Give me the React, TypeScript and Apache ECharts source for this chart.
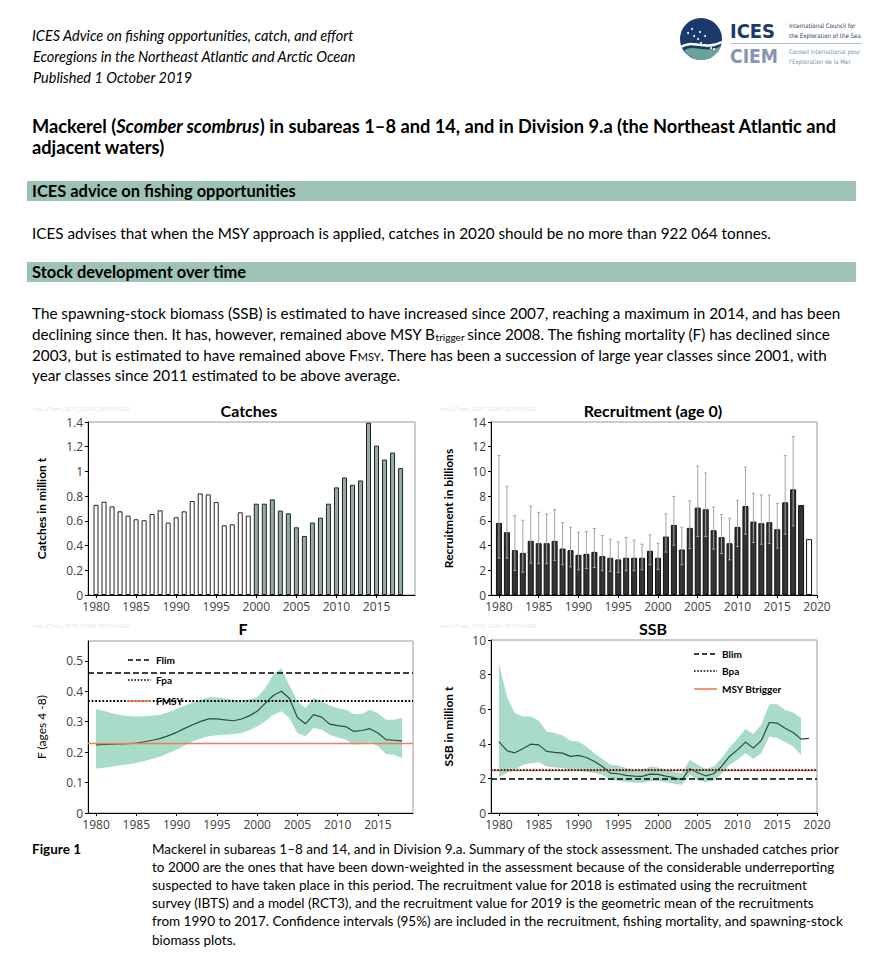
import React, { useEffect, useRef } from 'react';
import * as echarts from 'echarts';

// ---------------- DATA ----------------
const catchYears = [1980, 1981, 1982, 1983, 1984, 1985, 1986, 1987, 1988, 1989, 1990, 1991, 1992, 1993, 1994, 1995, 1996, 1997, 1998, 1999, 2000, 2001, 2002, 2003, 2004, 2005, 2006, 2007, 2008, 2009, 2010, 2011, 2012, 2013, 2014, 2015, 2016, 2017, 2018];
const catchValues = [0.73, 0.755, 0.717, 0.677, 0.642, 0.613, 0.605, 0.656, 0.685, 0.586, 0.629, 0.677, 0.76, 0.822, 0.814, 0.752, 0.564, 0.572, 0.669, 0.642, 0.739, 0.739, 0.774, 0.683, 0.661, 0.548, 0.478, 0.586, 0.626, 0.739, 0.871, 0.951, 0.892, 0.927, 1.395, 1.209, 1.096, 1.153, 1.027];
const unshadedBefore = 2000;

const recYears = [1980, 1981, 1982, 1983, 1984, 1985, 1986, 1987, 1988, 1989, 1990, 1991, 1992, 1993, 1994, 1995, 1996, 1997, 1998, 1999, 2000, 2001, 2002, 2003, 2004, 2005, 2006, 2007, 2008, 2009, 2010, 2011, 2012, 2013, 2014, 2015, 2016, 2017, 2018, 2019];
const recValues = [5.83, 5.08, 3.63, 3.41, 4.38, 4.19, 4.19, 4.38, 3.76, 3.63, 3.25, 3.33, 3.49, 3.15, 3.01, 2.88, 3.01, 3.01, 3.01, 3.58, 3.01, 4.73, 5.67, 3.68, 5.43, 7.07, 6.94, 5.24, 4.68, 4.19, 5.51, 7.2, 5.94, 5.81, 5.89, 5.32, 7.5, 8.55, 7.28, 4.52];
const recGeoMeanYear = 2019;
const recUpper = [11.29, 8.79, 6.42, 6.05, 7.2, 6.69, 6.56, 6.91, 5.86, 5.48, 5.08, 5.13, 5.38, 4.81, 4.52, 4.3, 4.65, 4.44, 4.11, 4.87, 4.17, 6.56, 7.98, 5.48, 7.61, 10.43, 9.87, 7.12, 6.51, 6.21, 7.66, 10.35, 8.23, 8.09, 8.09, 7.42, 11.29, 12.82];
const recLower = [2.98, 2.98, 1.99, 1.85, 2.58, 2.53, 2.53, 2.8, 2.45, 2.28, 2.04, 2.15, 2.23, 1.96, 1.91, 1.83, 1.96, 1.96, 2.04, 2.45, 2.07, 3.47, 4.03, 2.45, 3.76, 4.73, 4.73, 3.71, 3.36, 2.85, 3.92, 4.92, 4.25, 4.11, 4.17, 3.79, 4.92, 5.59];

const fYears = [1980, 1981, 1982, 1983, 1984, 1985, 1986, 1987, 1988, 1989, 1990, 1991, 1992, 1993, 1994, 1995, 1996, 1997, 1998, 1999, 2000, 2001, 2002, 2003, 2004, 2005, 2006, 2007, 2008, 2009, 2010, 2011, 2012, 2013, 2014, 2015, 2016, 2017, 2018];
const fMean = [0.224, 0.225, 0.226, 0.227, 0.228, 0.23, 0.234, 0.239, 0.245, 0.254, 0.265, 0.278, 0.29, 0.301, 0.309, 0.309, 0.306, 0.303, 0.308, 0.319, 0.334, 0.36, 0.386, 0.4, 0.377, 0.314, 0.293, 0.323, 0.315, 0.292, 0.287, 0.284, 0.268, 0.271, 0.277, 0.263, 0.241, 0.239, 0.237];
const fUpper = [0.342, 0.335, 0.328, 0.322, 0.319, 0.317, 0.318, 0.32, 0.323, 0.331, 0.342, 0.352, 0.362, 0.372, 0.38, 0.379, 0.377, 0.372, 0.369, 0.374, 0.38, 0.41, 0.454, 0.476, 0.42, 0.367, 0.345, 0.377, 0.367, 0.353, 0.345, 0.339, 0.325, 0.325, 0.339, 0.328, 0.306, 0.306, 0.312];
const fLower = [0.146, 0.149, 0.153, 0.157, 0.16, 0.164, 0.171, 0.178, 0.186, 0.197, 0.208, 0.222, 0.235, 0.245, 0.252, 0.255, 0.257, 0.259, 0.263, 0.272, 0.284, 0.301, 0.323, 0.334, 0.312, 0.263, 0.252, 0.279, 0.274, 0.257, 0.248, 0.241, 0.224, 0.226, 0.233, 0.219, 0.194, 0.191, 0.18];
const Flim = 0.46;
const Fpa = 0.37;
const FMSY = 0.23;

const ssbYears = [1980, 1981, 1982, 1983, 1984, 1985, 1986, 1987, 1988, 1989, 1990, 1991, 1992, 1993, 1994, 1995, 1996, 1997, 1998, 1999, 2000, 2001, 2002, 2003, 2004, 2005, 2006, 2007, 2008, 2009, 2010, 2011, 2012, 2013, 2014, 2015, 2016, 2017, 2018, 2019];
const ssbValues = [4.13, 3.6, 3.48, 3.71, 3.98, 3.94, 3.56, 3.5, 3.46, 3.27, 3.33, 3.21, 2.98, 2.69, 2.31, 2.27, 2.17, 2.13, 2.12, 2.25, 2.23, 2.13, 2.04, 1.92, 2.56, 2.33, 2.15, 2.27, 2.69, 3.27, 3.65, 4.1, 3.75, 4.19, 5.23, 5.19, 4.9, 4.65, 4.27, 4.31];
const ssbBandYears = [1980, 1981, 1982, 1983, 1984, 1985, 1986, 1987, 1988, 1989, 1990, 1991, 1992, 1993, 1994, 1995, 1996, 1997, 1998, 1999, 2000, 2001, 2002, 2003, 2004, 2005, 2006, 2007, 2008, 2009, 2010, 2011, 2012, 2013, 2014, 2015, 2016, 2017, 2018];
const ssbUpper = [8.65, 6.73, 5.77, 5.58, 5.58, 5.33, 4.71, 4.62, 4.48, 4.17, 4.13, 3.85, 3.46, 3.13, 2.79, 2.75, 2.6, 2.5, 2.5, 2.69, 2.63, 2.5, 2.37, 2.31, 3.08, 2.79, 2.56, 2.69, 3.17, 3.79, 4.29, 4.85, 4.56, 5.1, 6.29, 6.29, 5.96, 5.81, 5.48];
const ssbLower = [2.06, 2.31, 2.5, 2.79, 2.88, 2.94, 2.69, 2.63, 2.6, 2.5, 2.5, 2.4, 2.31, 2.21, 1.92, 1.87, 1.79, 1.75, 1.75, 1.83, 1.83, 1.79, 1.69, 1.63, 2.21, 1.88, 1.79, 1.87, 2.25, 2.79, 3.08, 3.46, 3.13, 3.46, 4.42, 4.33, 4.1, 3.85, 3.37];
const Blim = 2.0;
const Bpa = 2.5;
const MSYBtrigger = 2.5;

const xTicksTo2015 = [1980, 1985, 1990, 1995, 2000, 2005, 2010, 2015];
const xTicksTo2020 = [1980, 1985, 1990, 1995, 2000, 2005, 2010, 2015, 2020];
const catchTicks = [0, 0.2, 0.4, 0.6, 0.8, 1, 1.2, 1.4];
const recTicks = [0, 2, 4, 6, 8, 10, 12, 14];
const fTicks = [0, 0.1, 0.2, 0.3, 0.4, 0.5];
const ssbTicks = [0, 2, 4, 6, 8, 10];

// ---------------- TEXT ----------------
const header = [
  'ICES Advice on fishing opportunities, catch, and effort',
  'Ecoregions in the Northeast Atlantic and Arctic Ocean',
  'Published 1 October 2019',
];
const titleA = 'Mackerel (';
const titleB = 'Scomber scombrus';
const titleC = ') in subareas 1–8 and 14, and in Division 9.a (the Northeast Atlantic and';
const title2 = 'adjacent waters)';
const section1 = 'ICES advice on fishing opportunities';
const section2 = 'Stock development over time';
const advice = 'ICES advises that when the MSY approach is applied, catches in 2020 should be no more than 922 064 tonnes.';
const p1 = 'The spawning-stock biomass (SSB) is estimated to have increased since 2007, reaching a maximum in 2014, and has been';
const p2a = 'declining since then. It has, however, remained above MSY B';
const p2sub = 'trigger ';
const p2b = 'since 2008. The fishing mortality (F) has declined since';
const p3a = '2003, but is estimated to have remained above F';
const p3sc = 'MSY';
const p3b = '. There has been a succession of large year classes since 2001, with';
const p4 = 'year classes since 2011 estimated to be above average.';
const captionLabel = 'Figure 1';
const caption = [
  'Mackerel in subareas 1–8 and 14, and in Division 9.a. Summary of the stock assessment. The unshaded catches prior',
  'to 2000 are the ones that have been down-weighted in the assessment because of the considerable underreporting',
  'suspected to have taken place in this period. The recruitment value for 2018 is estimated using the recruitment',
  'survey (IBTS) and a model (RCT3), and the recruitment value for 2019 is the geometric mean of the recruitments',
  'from 1990 to 2017. Confidence intervals (95%) are included in the recruitment, fishing mortality, and spawning-stock',
  'biomass plots.',
];
const watermark = 'mac.27.nea_2019_12084_2019100202';

// logo shapes
echarts.graphic.registerShape(
  'icesWave',
  echarts.graphic.extendPath('M -17 12 C -8 4 4 16 20 7 A 21 21 0 0 1 -17 12 Z', {})
);
echarts.graphic.registerShape(
  'icesSwoosh',
  echarts.graphic.extendPath('M -20 8 C -9 0 4 12 21 3', {})
);
const logoStars = [[-13, -6], [-9, -10], [-7, -3], [-3, 0], [0, 4], [4, -3], [6, 7], [10, 9], [-1, -7], [13, 10]];

const DOC = 'Lato, "Open Sans", sans-serif';
const AX = '"Open Sans", sans-serif';
const BAND = '#a8dcc8';
const LINE = '#2c4a44';
const ORANGE = '#ef7d56';

export default function App() {
  const ref = useRef<HTMLDivElement>(null);

  useEffect(() => {
    if (!ref.current) return;
    const chart = echarts.init(ref.current, undefined, { renderer: 'svg' });

    const cvs = document.createElement('canvas');
    const ctx = cvs.getContext('2d') as CanvasRenderingContext2D;
    const measure = (t: string, size: number, weight = 'normal', style = 'normal', fam = DOC) => {
      ctx.font = `${style} ${weight} ${size}px ${fam}`;
      return ctx.measureText(t).width;
    };
    const clamp = (v: number, lo: number, hi: number) => Math.min(hi, Math.max(lo, v));
    const fit = (t: string, w: number, weight = 'normal', style = 'normal', fam = DOC, lo = 6, hi = 22) =>
      clamp((20 * w) / measure(t, 20, weight, style, fam), lo, hi);

    const sizeH = fit(header[0], 322, 'normal', 'italic');
    const sizeT = fit(titleA + titleB + titleC, 819 * 0.995, 'bold');
    const sizeS = fit(section1, 264, 'bold');
    const sizeB = fit(advice, 740);
    const sizeC = fit(caption[4], 699 * 0.99);

    const txt = (x: number, y: number, text: string, o: any = {}) => ({
      type: 'text',
      x,
      y,
      z: 10,
      style: {
        text,
        fontSize: o.size || 12,
        fontWeight: o.weight || 'normal',
        fontStyle: o.style || 'normal',
        fontFamily: o.fam || DOC,
        fill: o.fill || '#000',
        align: o.align || 'left',
        verticalAlign: 'middle',
      },
    });
    const segs = (x0: number, y: number, parts: any[]) => {
      let x = x0;
      return parts.map((p) => {
        const el = txt(x, y + (p.dy || 0), p.t, p);
        x += measure(p.t, p.size, p.weight || 'normal', p.style || 'normal', p.fam || DOC);
        return el;
      });
    };

    const graphics: any[] = [];
    // header
    header.forEach((h, i) => graphics.push(txt(i === 0 ? 32 : 33, 35 + i * 21, h, { size: sizeH, style: 'italic' })));
    // logo
    graphics.push({ type: 'circle', z: 10, shape: { cx: 701, cy: 39, r: 21 }, style: { fill: '#1b3a6b' } });
    graphics.push({ type: 'icesWave', z: 11, x: 701, y: 39, style: { fill: '#6aa39a', stroke: null } });
    graphics.push({ type: 'icesSwoosh', z: 11, x: 701, y: 39, style: { fill: null, stroke: '#ffffff', lineWidth: 2.5 } });
    logoStars.forEach(([dx, dy]) =>
      graphics.push({ type: 'circle', z: 12, shape: { cx: 701 + dx, cy: 39 + dy, r: 1 }, style: { fill: '#ffffff' } })
    );
    const LOGOFAM = '"DejaVu Sans Condensed", Roboto, sans-serif';
    graphics.push(txt(730, 31, 'ICES', { size: fit('ICES', 45, 'bold', 'normal', LOGOFAM, 10, 40), weight: 'bold', fam: LOGOFAM, fill: '#1b3a6b' }));
    graphics.push(txt(730, 56, 'CIEM', { size: fit('CIEM', 48, 'bold', 'normal', LOGOFAM, 10, 40), weight: 'bold', fam: LOGOFAM, fill: '#8594b0' }));
    graphics.push({ type: 'line', z: 10, shape: { x1: 731, y1: 43.5, x2: 862, y2: 43.5 }, style: { stroke: '#b8c0cc', lineWidth: 1 } });
    const smallSize = fit('the Exploration of the Sea', 72, 'normal', 'normal', LOGOFAM, 4, 12);
    graphics.push(txt(789, 25, 'International Council for', { size: smallSize, fam: LOGOFAM, fill: '#1b3a6b' }));
    graphics.push(txt(789, 35, 'the Exploration of the Sea', { size: smallSize, fam: LOGOFAM, fill: '#1b3a6b' }));
    graphics.push(txt(789, 51, 'Conseil International pour', { size: smallSize, fam: LOGOFAM, fill: '#6f93a8' }));
    graphics.push(txt(789, 61, "l'Exploration de la Mer", { size: smallSize, fam: LOGOFAM, fill: '#6f93a8' }));

    // title
    graphics.push(
      ...segs(32, 126, [
        { t: titleA, size: sizeT, weight: 'bold' },
        { t: titleB, size: sizeT, weight: 'bold', style: 'italic' },
        { t: titleC, size: sizeT, weight: 'bold' },
      ])
    );
    graphics.push(txt(32, 147, title2, { size: sizeT, weight: 'bold' }));

    // sections
    graphics.push({ type: 'rect', z: 9, shape: { x: 27, y: 181, width: 829, height: 20 }, style: { fill: '#9dc3b6' } });
    graphics.push(txt(32, 191, section1, { size: sizeS, weight: 'bold' }));
    graphics.push(txt(32, 233, advice, { size: sizeB }));
    graphics.push({ type: 'rect', z: 9, shape: { x: 27, y: 262, width: 829, height: 20 }, style: { fill: '#9dc3b6' } });
    graphics.push(txt(32, 272, section2, { size: sizeS, weight: 'bold' }));

    // paragraph
    graphics.push(txt(32, 313, p1, { size: sizeB }));
    graphics.push(
      ...segs(32, 334, [
        { t: p2a, size: sizeB },
        { t: p2sub, size: sizeB * 0.66, dy: 3 },
        { t: p2b, size: sizeB },
      ])
    );
    graphics.push(
      ...segs(32, 355, [
        { t: p3a, size: sizeB },
        { t: p3sc, size: sizeB * 0.72, dy: 1 },
        { t: p3b, size: sizeB },
      ])
    );
    graphics.push(txt(32, 375, p4, { size: sizeB }));

    // chart titles & watermarks
    const CT = { size: 16, weight: 'bold', align: 'center' };
    graphics.push(txt(249, 410, 'Catches', CT));
    graphics.push(txt(653, 410, 'Recruitment (age 0)', CT));
    graphics.push(txt(243, 628, 'F', CT));
    graphics.push(txt(653, 628, 'SSB', CT));
    [[33, 409], [440, 409], [33, 626], [440, 626]].forEach(([x, y]) =>
      graphics.push(txt(x, y, watermark, { size: 5.5, fill: '#e4e4e4', fam: AX }))
    );

    // F legend
    const legTxt = { size: 10, weight: 'bold' };
    graphics.push({ type: 'line', z: 10, shape: { x1: 128, y1: 660, x2: 151, y2: 660 }, style: { stroke: '#000', lineWidth: 1.6, lineDash: [5, 3] } });
    graphics.push(txt(156, 660, 'Flim', legTxt));
    graphics.push({ type: 'line', z: 10, shape: { x1: 128, y1: 680, x2: 151, y2: 680 }, style: { stroke: '#000', lineWidth: 1.6, lineDash: [1.6, 1.6] } });
    graphics.push(txt(156, 680, 'Fpa', legTxt));
    graphics.push({ type: 'line', z: 10, shape: { x1: 128, y1: 701, x2: 151, y2: 701 }, style: { stroke: ORANGE, lineWidth: 1.6 } });
    graphics.push(txt(156, 701, 'FMSY', legTxt));
    // SSB legend
    graphics.push({ type: 'line', z: 10, shape: { x1: 694, y1: 654, x2: 717, y2: 654 }, style: { stroke: '#000', lineWidth: 1.6, lineDash: [5, 3] } });
    graphics.push(txt(722, 654, 'Blim', legTxt));
    graphics.push({ type: 'line', z: 10, shape: { x1: 694, y1: 671, x2: 717, y2: 671 }, style: { stroke: '#000', lineWidth: 1.6, lineDash: [1.6, 1.6] } });
    graphics.push(txt(722, 671, 'Bpa', legTxt));
    graphics.push({ type: 'line', z: 10, shape: { x1: 694, y1: 689, x2: 717, y2: 689 }, style: { stroke: ORANGE, lineWidth: 1.6 } });
    graphics.push(txt(722, 689, 'MSY Btrigger', legTxt));

    // caption
    graphics.push(txt(32, 849, captionLabel, { size: sizeC, weight: 'bold' }));
    const capY = [849, 867, 885, 903, 921, 940];
    caption.forEach((c, i) => graphics.push(txt(152, capY[i], c, { size: sizeC })));

    // axes helpers
    const plain = (v: number) => String(v);
    const xAxis = (grid: number, max: number, ticks: number[]) => ({
      type: 'value',
      gridIndex: grid,
      min: 1979,
      max,
      axisLine: { show: true, onZero: false, lineStyle: { color: '#000', width: 1 } },
      axisTick: { show: true, length: 3, customValues: ticks, lineStyle: { color: '#000' } },
      axisLabel: { customValues: ticks, formatter: plain, color: '#404040', fontSize: 12, fontFamily: AX, margin: 5 },
      splitLine: { show: false },
    });
    const yAxis = (grid: number, max: number, ticks: number[], name: string, gap: number, weight: string) => ({
      type: 'value',
      gridIndex: grid,
      min: 0,
      max,
      axisLine: { show: true, onZero: false, lineStyle: { color: '#000', width: 1 } },
      axisTick: { show: true, length: 3, customValues: ticks, lineStyle: { color: '#000' } },
      axisLabel: { customValues: ticks, formatter: plain, color: '#404040', fontSize: 12, fontFamily: AX, margin: 5 },
      splitLine: { show: false },
      name,
      nameLocation: 'middle',
      nameGap: gap,
      nameRotate: 90,
      nameTextStyle: { fontFamily: DOC, fontWeight: weight, fontSize: 12, color: '#000' },
    });

    const bandSeries = (xi: number, yrs: number[], lo: number[], up: number[]) => ({
      type: 'custom',
      xAxisIndex: xi,
      yAxisIndex: xi,
      silent: true,
      data: yrs.map((y, i) => [y, lo[i], up[i]]),
      encode: { x: 0, y: [1, 2] },
      renderItem: (params: any, api: any) => {
        if (params.dataIndex !== 0) return null;
        const top = yrs.map((y, i) => api.coord([y, up[i]]));
        const bot = yrs.map((y, i) => api.coord([y, lo[i]])).reverse();
        return { type: 'polygon', shape: { points: top.concat(bot) }, style: { fill: BAND } };
      },
    });

    const option: any = {
      animation: false,
      backgroundColor: '#ffffff',
      grid: [
        { left: 88, top: 422, width: 327, height: 173, show: true, borderColor: '#9a9a9a', borderWidth: 1 },
        { left: 491, top: 422, width: 326, height: 173, show: true, borderColor: '#9a9a9a', borderWidth: 1 },
        { left: 88, top: 641, width: 325, height: 172, show: true, borderColor: '#9a9a9a', borderWidth: 1 },
        { left: 491, top: 640, width: 326, height: 173, show: true, borderColor: '#9a9a9a', borderWidth: 1 },
      ],
      xAxis: [
        xAxis(0, 2019.8, xTicksTo2015),
        xAxis(1, 2020, xTicksTo2020),
        xAxis(2, 2019.35, xTicksTo2015),
        xAxis(3, 2020, xTicksTo2020),
      ],
      yAxis: [
        yAxis(0, 1.4, catchTicks, 'Catches in million t', 41, 'bold'),
        yAxis(1, 14, recTicks, 'Recruitment in billions', 37, 'bold'),
        yAxis(2, 0.565, fTicks, 'F (ages 4 -8)', 41, 'normal'),
        yAxis(3, 10, ssbTicks, 'SSB in million t', 37, 'bold'),
      ],
      graphic: { elements: graphics },
      series: [
        {
          type: 'bar',
          xAxisIndex: 0,
          yAxisIndex: 0,
          barWidth: 5,
          itemStyle: { borderColor: '#222', borderWidth: 1 },
          data: catchYears.map((y, i) => ({
            value: [y, catchValues[i]],
            itemStyle: { color: y < unshadedBefore ? '#ffffff' : '#8fb0a3' },
          })),
        },
        {
          type: 'bar',
          xAxisIndex: 1,
          yAxisIndex: 1,
          barWidth: 6,
          itemStyle: { borderColor: '#111', borderWidth: 1 },
          data: recYears.map((y, i) => ({
            value: [y, recValues[i]],
            itemStyle: { color: y === recGeoMeanYear ? '#ffffff' : '#333333' },
          })),
        },
        {
          type: 'custom',
          xAxisIndex: 1,
          yAxisIndex: 1,
          silent: true,
          z: 3,
          data: recUpper.map((u, i) => [recYears[i], recLower[i], u]),
          encode: { x: 0, y: [1, 2] },
          renderItem: (params: any, api: any) => {
            const x = api.value(0);
            const lo = api.coord([x, api.value(1)]);
            const hi = api.coord([x, api.value(2)]);
            const c = '#a3a3a3';
            return {
              type: 'group',
              children: [
                { type: 'line', shape: { x1: hi[0], y1: hi[1], x2: lo[0], y2: lo[1] }, style: { stroke: c, lineWidth: 1 } },
                { type: 'line', shape: { x1: hi[0] - 1.5, y1: hi[1], x2: hi[0] + 1.5, y2: hi[1] }, style: { stroke: c, lineWidth: 1 } },
                { type: 'line', shape: { x1: lo[0] - 1.5, y1: lo[1], x2: lo[0] + 1.5, y2: lo[1] }, style: { stroke: c, lineWidth: 1 } },
              ],
            };
          },
        },
        bandSeries(2, fYears, fLower, fUpper),
        {
          type: 'line',
          xAxisIndex: 2,
          yAxisIndex: 2,
          symbol: 'none',
          lineStyle: { color: LINE, width: 1.2 },
          data: fYears.map((y, i) => [y, fMean[i]]),
          markLine: {
            symbol: ['none', 'none'],
            silent: true,
            label: { show: false },
            data: [
              { yAxis: FMSY, lineStyle: { color: ORANGE, width: 1.3, type: 'solid' } },
              { yAxis: Fpa, lineStyle: { color: '#000', width: 1.8, type: [1.8, 1.8] } },
              { yAxis: Flim, lineStyle: { color: '#000', width: 1.6, type: [6, 3] } },
            ],
          },
        },
        bandSeries(3, ssbBandYears, ssbLower, ssbUpper),
        {
          type: 'line',
          xAxisIndex: 3,
          yAxisIndex: 3,
          symbol: 'none',
          lineStyle: { color: LINE, width: 1.2 },
          data: ssbYears.map((y, i) => [y, ssbValues[i]]),
          markLine: {
            symbol: ['none', 'none'],
            silent: true,
            label: { show: false },
            data: [
              { yAxis: MSYBtrigger, lineStyle: { color: ORANGE, width: 1.3, type: 'solid' } },
              { yAxis: Bpa, lineStyle: { color: '#000', width: 1.6, type: [1.6, 1.6] } },
              { yAxis: Blim, lineStyle: { color: '#000', width: 1.6, type: [6, 3] } },
            ],
          },
        },
      ],
    };

    chart.setOption(option);
    return () => chart.dispose();
  }, []);

  return (
    <div
      ref={ref}
      style={{ position: 'absolute', left: 0, top: 0, width: 879, height: 955, background: '#fff' }}
    />
  );
}
